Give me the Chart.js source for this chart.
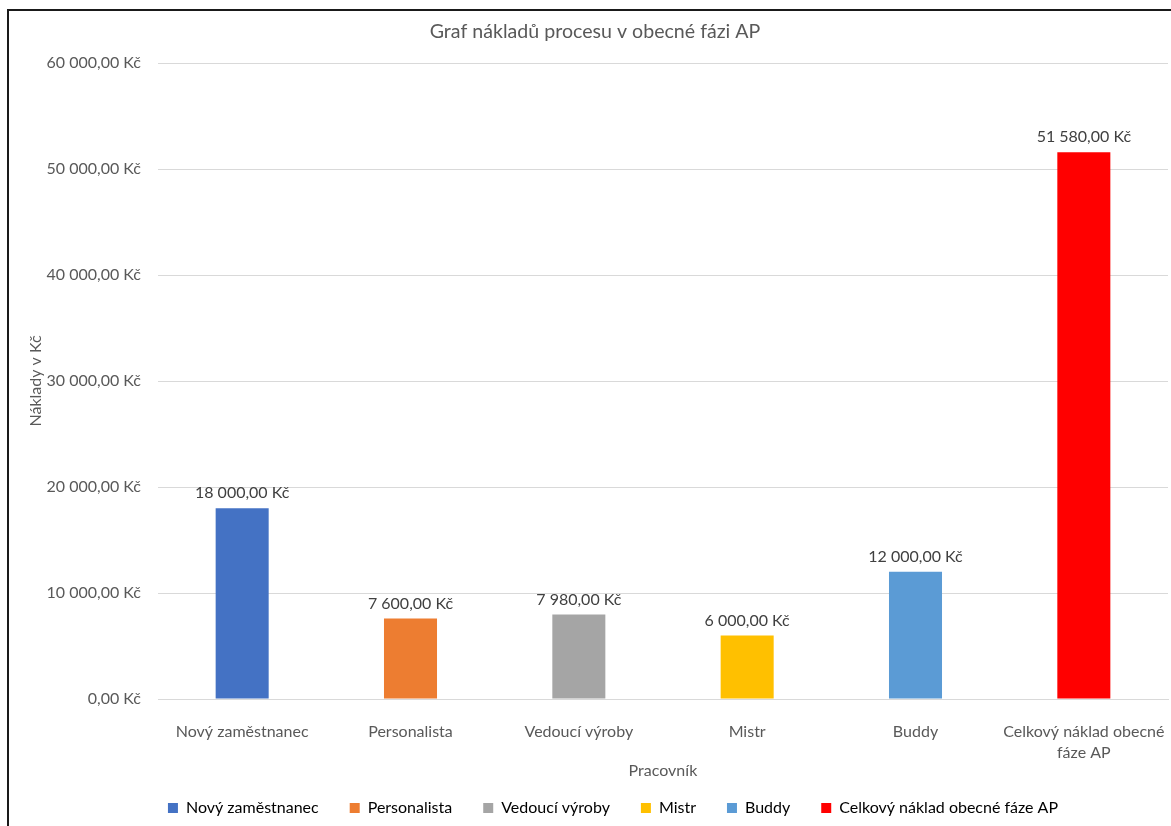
<!DOCTYPE html>
<html><head><meta charset="utf-8">
<script src="https://cdn.jsdelivr.net/npm/chart.js@4"></script>
<style>html,body{margin:0;padding:0;background:#fff;overflow:hidden}</style>
</head><body>
<canvas id="c" width="1171" height="826"></canvas>
<script>
const categories = ["Nový zaměstnanec", "Personalista", "Vedoucí výroby", "Mistr", "Buddy", "Celkový náklad obecné fáze AP"];
const tickLabels = ["Nový zaměstnanec", "Personalista", "Vedoucí výroby", "Mistr", "Buddy", ["Celkový náklad obecné", "fáze AP"]];
const values = [18000, 7600, 7980, 6000, 12000, 51580];
const colors = ["#4472C4", "#ED7D31", "#A5A5A5", "#FFC000", "#5B9BD5", "#FF0000"];
const yMin = 0, yMax = 60000, yStep = 10000;
const chartTitle = "Graf nákladů procesu v obecné fázi AP";
const xTitle = "Pracovník";
const yTitle = "Náklady v Kč";

const FONT = "Lato, 'Liberation Sans', sans-serif";
const TXT = "#595959";

function fmt(v) {
  const p = Number(v).toFixed(2).split('.');
  const i = p[0].replace(/\B(?=(\d{3})+(?!\d))/g, ' ');
  return i + ',' + p[1] + ' Kč';
}

const frame = {
  id: 'frame',
  beforeDraw(chart) {
    const ctx = chart.ctx;
    ctx.save();
    ctx.fillStyle = '#fff';
    ctx.fillRect(0, 0, chart.width, chart.height);
    ctx.strokeStyle = '#1a1a1a';
    ctx.lineWidth = 2;
    ctx.strokeRect(8, 10, chart.width + 50, chart.height + 50);
    ctx.restore();
  }
};

const boxShift = {
  id: 'boxShift',
  afterLayout(chart) {
    if (chart.legend) { chart.legend.left += 24; chart.legend.right += 24; }
    if (chart.titleBlock) { chart.titleBlock.left += 6; chart.titleBlock.right += 6; }
  }
};

const dataLabels = {
  id: 'dataLabels',
  afterDatasetsDraw(chart) {
    const ctx = chart.ctx;
    const meta = chart.getDatasetMeta(0);
    ctx.save();
    ctx.font = "16px " + FONT;
    ctx.fillStyle = "#404040";
    ctx.textAlign = 'center';
    ctx.textBaseline = 'middle';
    meta.data.forEach((bar, i) => {
      ctx.fillText(fmt(chart.data.datasets[0].data[i]), bar.x, bar.y - 15);
    });
    ctx.restore();
  }
};

new Chart(document.getElementById('c'), {
  type: 'bar',
  data: {
    labels: tickLabels,
    datasets: [{
      label: yTitle,
      data: values,
      backgroundColor: colors,
      borderWidth: 0,
      barPercentage: 0.315,
      categoryPercentage: 1
    }]
  },
  options: {
    responsive: false,
    animation: false,
    devicePixelRatio: 1,
    layout: { padding: { left: 10, top: 10, right: 3, bottom: 0 } },
    plugins: {
      title: {
        display: true,
        text: chartTitle,
        color: TXT,
        font: { family: FONT, size: 19.6, weight: 'normal', lineHeight: 1.2 },
        padding: { top: 10.25, bottom: 19.25 }
      },
      legend: {
        position: 'bottom',
        labels: {
          color: TXT,
          font: { family: FONT, size: 16 },
          boxWidth: 10,
          boxHeight: 10,
          padding: 31,
          generateLabels: () => categories.map((c, i) => ({
            text: c, fillStyle: colors[i], strokeStyle: colors[i], lineWidth: 0, hidden: false, index: i
          }))
        },
        onClick: () => {}
      },
      tooltip: { enabled: false }
    },
    scales: {
      x: {
        grid: { display: false },
        border: { color: '#d9d9d9', width: 1 },
        ticks: { color: TXT, font: { family: FONT, size: 16, lineHeight: 1.3 }, padding: 14.6, maxRotation: 0, autoSkip: false },
        title: { display: true, text: xTitle, color: TXT, font: { family: FONT, size: 16, lineHeight: 1.2 }, padding: { top: 0, bottom: -11.6 } },
        afterFit(s) { s.height = 70; s.paddingLeft = 0; s.paddingRight = 0; }
      },
      y: {
        min: yMin, max: yMax,
        grid: { color: '#d9d9d9', lineWidth: 1, drawTicks: false },
        border: { display: false },
        ticks: { stepSize: yStep, color: TXT, font: { family: FONT, size: 16 }, padding: 17, callback: v => fmt(v) },
        title: { display: true, text: yTitle, color: TXT, font: { family: FONT, size: 16, lineHeight: 1.2 }, padding: { top: 16.4, bottom: 0 } },
        afterFit(s) { s.width = 148; s.paddingTop = 0; s.paddingBottom = 0; }
      }
    }
  },
  plugins: [frame, boxShift, dataLabels]
});
</script>
</body></html>
